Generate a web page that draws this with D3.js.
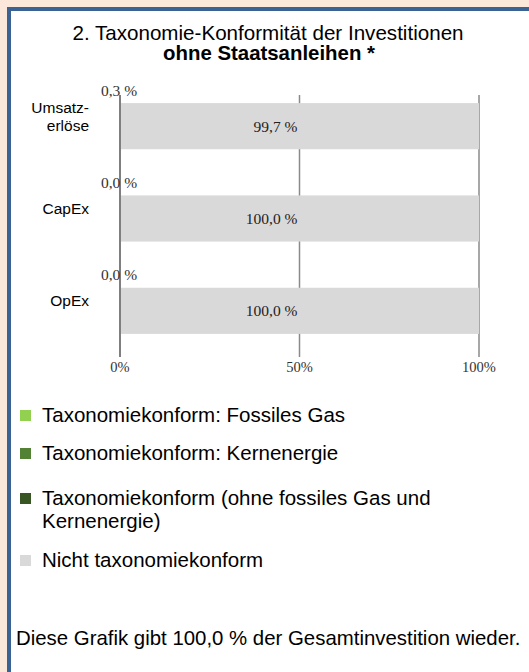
<!DOCTYPE html>
<html><head><meta charset="utf-8">
<script src="https://cdn.jsdelivr.net/npm/d3@7"></script>
<style>
html,body{margin:0;padding:0;background:#fce8da;}
svg{display:block;}
</style></head>
<body>
<script>
const categories = [["Umsatz-","erlöse"],["CapEx"],["OpEx"]];
const fossilGas = [0, 0, 0];
const nuclear = [0, 0, 0];
const alignedOther = [0.3, 0.0, 0.0];
const notAligned = [99.7, 100.0, 100.0];
const xTicks = [0, 50, 100];
const seriesNames = ["Taxonomiekonform: Fossiles Gas","Taxonomiekonform: Kernenergie","Taxonomiekonform (ohne fossiles Gas und Kernenergie)","Nicht taxonomiekonform"];
const seriesColors = ["#92d050","#548235","#375623","#d9d9d9"];
const footer = "Diese Grafik gibt 100,0 % der Gesamtinvestition wieder.";

const W = 529, H = 672;
const svg = d3.select("body").append("svg").attr("width", W).attr("height", H);
svg.append("rect").attr("width", W).attr("height", H).attr("fill", "#fce8da");
svg.append("rect").attr("x", 7).attr("y", 7).attr("width", W).attr("height", H).attr("fill", "#3a6394");
svg.append("rect").attr("x", 11).attr("y", 11).attr("width", W).attr("height", H).attr("fill", "#ffffff");

const sans = "Liberation Sans, Arial, sans-serif";
const serif = "Liberation Serif, Times New Roman, serif";

svg.append("text").attr("x", 268).attr("y", 40).attr("text-anchor", "middle")
  .attr("font-family", sans).attr("font-size", 20.6).attr("fill", "#000")
  .text("2. Taxonomie-Konformität der Investitionen");
svg.append("text").attr("x", 269).attr("y", 60).attr("text-anchor", "middle")
  .attr("font-family", sans).attr("font-size", 20.4).attr("font-weight", "bold").attr("fill", "#000")
  .text("ohne Staatsanleihen *");

const x = d3.scaleLinear().domain([0, 100]).range([120, 479]);
const y = d3.scaleBand().domain(d3.range(categories.length)).range([80, 357]).paddingInner(0.5).paddingOuter(0.25);

// grid
const gTop = y(0) - 8;
svg.append("g").selectAll("line").data(xTicks.slice(1)).join("line")
  .attr("x1", d => x(d)).attr("x2", d => x(d)).attr("y1", gTop).attr("y2", y.range()[1])
  .attr("stroke", "#8a8a8a").attr("stroke-width", 1.5);

const rows = categories.map((c, i) => ({i, vals: [fossilGas[i], nuclear[i], alignedOther[i], notAligned[i]]}));
rows.forEach(r => {
  let acc = 0;
  r.segs = r.vals.map((v, k) => { const s = {k, x0: acc, x1: acc + v, v}; acc += v; return s; });
});

svg.append("g").selectAll("g").data(rows).join("g").each(function(r) {
  d3.select(this).selectAll("rect").data(r.segs.filter(s => s.v > 0)).join("rect")
    .attr("x", s => x(s.x0)).attr("width", s => x(s.x1) - x(s.x0))
    .attr("y", y(r.i)).attr("height", y.bandwidth())
    .attr("fill", s => seriesColors[s.k]);
});

// axis line at 0
svg.append("line").attr("x1", x(0)).attr("x2", x(0)).attr("y1", gTop).attr("y2", y.range()[1])
  .attr("stroke", "#7f7f7f").attr("stroke-width", 2);

const fmt = v => d3.format(".1f")(v).replace(".", ",") + " %";

// aligned labels above bar
svg.append("g").selectAll("text").data(rows).join("text")
  .attr("x", x(alignedOther[0]) - 2).attr("y", r => y(r.i) - 13).attr("dy", "0.35em")
  .attr("text-anchor", "middle").attr("font-family", serif).attr("font-size", 15.5).attr("fill", "#333")
  .text(r => fmt(alignedOther[r.i]));

// not aligned labels
svg.append("g").selectAll("text").data(rows).join("text")
  .attr("x", x(50) - 2).attr("y", r => y(r.i) + y.bandwidth() / 2).attr("dy", "0.35em")
  .attr("text-anchor", "end").attr("font-family", serif).attr("font-size", 15.5).attr("fill", "#222")
  .text(r => fmt(notAligned[r.i]));

// category labels
svg.append("g").selectAll("text").data(rows).join("text")
  .attr("x", 89).attr("text-anchor", "end").attr("font-family", sans).attr("font-size", 15.5).attr("fill", "#000")
  .attr("y", r => y(r.i) + y.bandwidth() / 2 - 10 - (categories[r.i].length - 1) * 9)
  .each(function(r) {
    d3.select(this).selectAll("tspan").data(categories[r.i]).join("tspan")
      .attr("x", 89).attr("dy", (d, j) => j === 0 ? "0.35em" : 18).text(d => d);
  });

// x tick labels
svg.append("g").selectAll("text").data(xTicks).join("text")
  .attr("x", d => x(d)).attr("y", 367).attr("dy", "0.35em").attr("text-anchor", "middle")
  .attr("font-family", serif).attr("font-size", 14.5).attr("fill", "#333")
  .text(d => d + "%");

// legend
const legY = [415, 453, 498, 560];
const leg = svg.append("g");
seriesNames.forEach((name, k) => {
  leg.append("rect").attr("x", 20).attr("y", legY[k] - 5).attr("width", 11).attr("height", 11).attr("fill", seriesColors[k]);
});
const legLines = [["Taxonomiekonform: Fossiles Gas"],["Taxonomiekonform: Kernenergie"],["Taxonomiekonform (ohne fossiles Gas und","Kernenergie)"],["Nicht taxonomiekonform"]];
legLines.forEach((lines, k) => {
  const t = leg.append("text").attr("x", 42).attr("y", legY[k]).attr("font-family", sans).attr("font-size", 20.5).attr("fill", "#000");
  lines.forEach((l, j) => t.append("tspan").attr("x", 42).attr("dy", j === 0 ? "0.35em" : 23).text(l));
});

svg.append("text").attr("x", 16).attr("y", 638).attr("dy", "0.35em").attr("font-family", sans).attr("font-size", 20.4).attr("fill", "#000")
  .text(footer);
</script>
</body></html>
